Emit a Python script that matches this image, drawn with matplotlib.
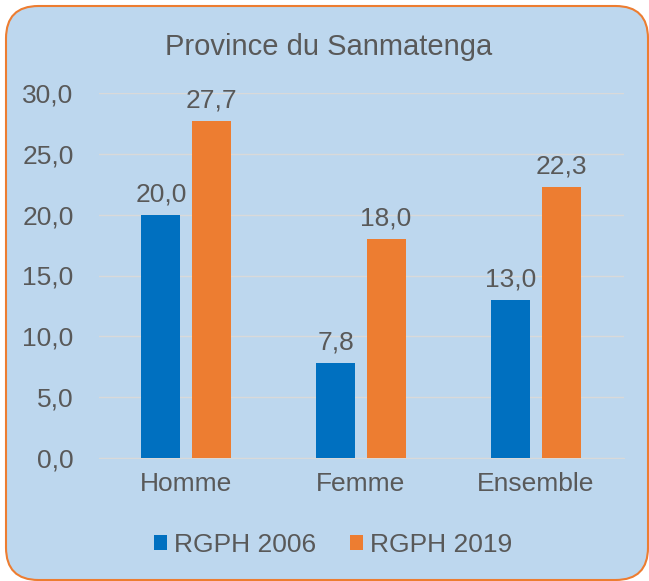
import matplotlib
matplotlib.use("Agg")
import matplotlib.pyplot as plt
import numpy as np
from matplotlib.patches import FancyBboxPatch

categories = ["Homme", "Femme", "Ensemble"]
series_names = ["RGPH 2006", "RGPH 2019"]
rgph2006 = [20.0, 7.8, 13.0]
rgph2019 = [27.7, 18.0, 22.3]
yticks = [0, 5, 10, 15, 20, 25, 30]
title = "Province du Sanmatenga"

plt.rcParams['font.family'] = ['Liberation Sans', 'DejaVu Sans']
TXT = "#595959"
BG = "#BDD7EE"
BLUE = "#0070C0"
ORANGE = "#ED7D31"

W, H = 649, 581
fig = plt.figure(figsize=(W/100, H/100), dpi=100)
fig.patch.set_facecolor("white")

box = FancyBboxPatch((6/W, 1/H), (642/W), (574/H),
                     boxstyle="round,pad=0,rounding_size=0.05",
                     transform=fig.transFigure, facecolor=BG,
                     edgecolor=ORANGE, linewidth=1.5, mutation_aspect=W/H,
                     zorder=-10)
fig.patches.append(box)

left, right = 98.5, 623.5
bottom, top = 458, 93
ax = fig.add_axes([left/W, 1 - bottom/H, (right-left)/W, (bottom-top)/H])
ax.set_facecolor("none")
ax.set_zorder(1)

x = np.arange(len(categories))
bw = 0.223
off = 0.143
b1 = ax.bar(x - off, rgph2006, bw, color=BLUE, label=series_names[0], zorder=3)
b2 = ax.bar(x + off, rgph2019, bw, color=ORANGE, label=series_names[1], zorder=3)

for bars, vals in ((b1, rgph2006), (b2, rgph2019)):
    for r, v in zip(bars, vals):
        ax.annotate(f"{v:.1f}".replace(".", ","),
                    (r.get_x() + r.get_width()/2, v),
                    xytext=(0, 6), textcoords="offset points",
                    ha="center", va="bottom", fontsize=19, color=TXT)

ax.set_xlim(-0.5, 2.5)
ax.set_ylim(0, 30)
ax.set_yticks(yticks)
ax.set_yticklabels([f"{t:.1f}".replace(".", ",") for t in yticks])
ax.set_xticks(x)
ax.set_xticklabels(categories)
ax.tick_params(axis="both", length=0, labelsize=19, colors=TXT)
ax.tick_params(axis="y", pad=18)
ax.tick_params(axis="x", pad=10)
ax.grid(axis="y", color="#D9D9D9", linewidth=1, zorder=0)
for s in ["top", "right", "left"]:
    ax.spines[s].set_visible(False)
ax.spines["bottom"].set_color("#D9D9D9")

fig.text(329/W, 1 - 47/H, title, ha="center", va="center",
         fontsize=21, color=TXT)

leg = fig.legend(handles=[b1, b2], labels=series_names, loc="center",
                 bbox_to_anchor=(333/W, 1 - 545/H), ncol=2, frameon=False,
                 fontsize=19, handlelength=0.5, handleheight=0.5,
                 handletextpad=0.25, columnspacing=1.3, labelcolor=TXT)

fig.savefig("out.png", dpi=100, facecolor="white")
